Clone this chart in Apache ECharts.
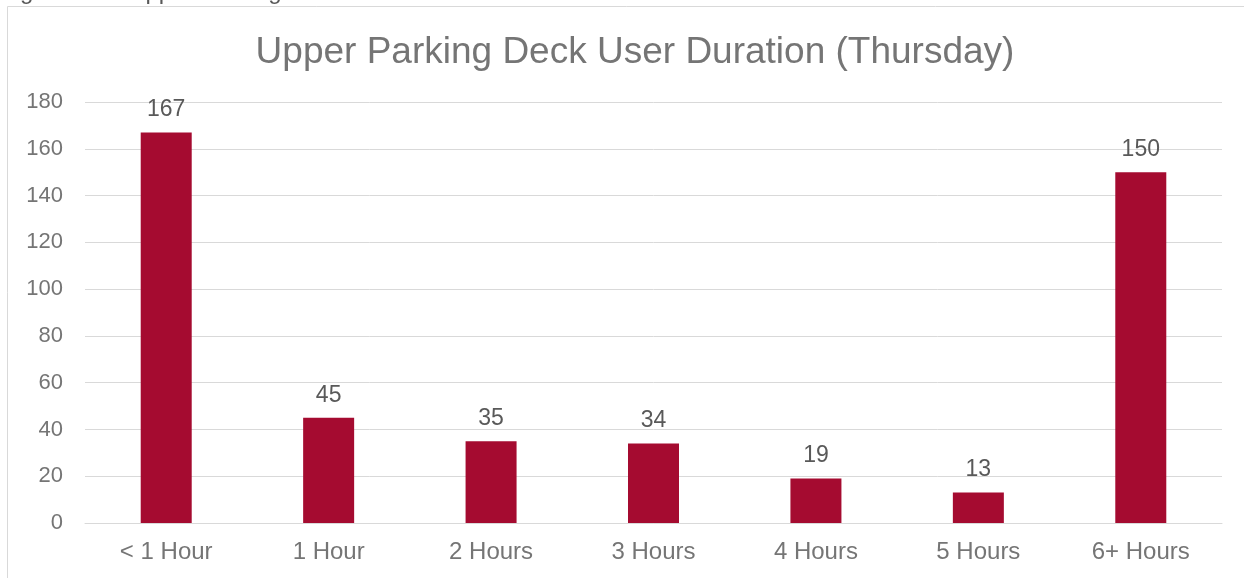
<!DOCTYPE html>
<html>
<head>
<meta charset="utf-8">
<script src="https://cdn.jsdelivr.net/npm/echarts@6/dist/echarts.min.js"></script>
<style>
  html, body { margin: 0; padding: 0; background: #fff; }
  #chart { width: 1244px; height: 578px; }
</style>
</head>
<body>
<div id="chart"></div>
<script>
// data
const categories = ['< 1 Hour', '1 Hour', '2 Hours', '3 Hours', '4 Hours', '5 Hours', '6+ Hours']
const userCounts = [167, 45, 35, 34, 19, 13, 150]
const chartTitle = 'Upper Parking Deck User Duration (Thursday)'
const captionText = 'Figure 10 \u2013 Upper Parking Deck Duration'

const chart = echarts.init(document.getElementById('chart'))

const option = {
  animation: false,
  textStyle: { fontFamily: '"Liberation Sans", Arial, sans-serif' },
  graphic: [
    // chart frame, runs off the right and bottom edges
    {
      type: 'rect',
      shape: { x: 7.5, y: 6.5, width: 1260, height: 600 },
      style: { fill: 'none', stroke: '#d9d9d9', lineWidth: 1 },
      silent: true
    },
    // caption above the frame, mostly cut off
    {
      type: 'text',
      left: 0,
      top: -20,
      style: {
        text: captionText,
        fontSize: 24,
        fill: '#595959',
        fontFamily: '"Liberation Sans", Arial, sans-serif'
      }
    }
  ],
  title: {
    text: chartTitle,
    left: 630,
    top: 29,
    textAlign: 'center',
    textStyle: {
      fontSize: 37,
      fontWeight: 'normal',
      color: '#757575',
      fontFamily: '"Liberation Sans", Arial, sans-serif'
    }
  },
  grid: {
    left: 85,
    right: 22,
    top: 102,
    bottom: 55
  },
  xAxis: {
    type: 'category',
    data: categories,
    axisLine: { lineStyle: { color: '#d9d9d9', width: 1 } },
    axisTick: { show: false },
    axisLabel: { fontSize: 24, color: '#757575', margin: 17 }
  },
  yAxis: {
    type: 'value',
    min: 0,
    max: 180,
    interval: 20,
    axisLine: { show: false },
    axisTick: { show: false },
    splitLine: { lineStyle: { color: '#d9d9d9', width: 1 } },
    axisLabel: { fontSize: 22, color: '#757575', margin: 22 }
  },
  series: [
    {
      type: 'bar',
      data: userCounts,
      barWidth: 51,
      itemStyle: { color: '#a50b30' },
      label: {
        show: true,
        position: 'top',
        distance: 11,
        fontSize: 23,
        color: '#595959'
      }
    }
  ]
}

chart.setOption(option)
</script>
</body>
</html>
